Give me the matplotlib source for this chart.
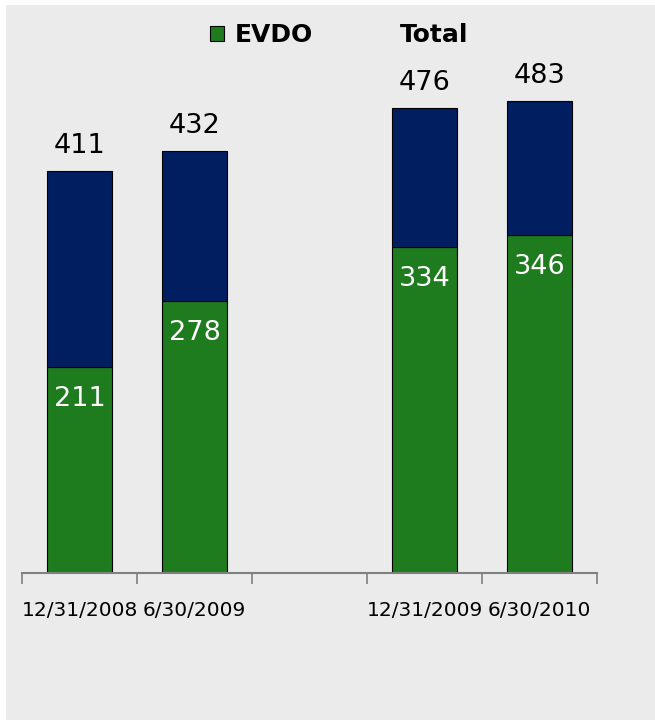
import matplotlib.pyplot as plt
import matplotlib.patches as mpatches
import numpy as np

# subscriber counts by period (empty slot between the two years)
periods = ["12/31/2008", "6/30/2009", "", "12/31/2009", "6/30/2010"]
evdo = [211, 278, np.nan, 334, 346]
total = [411, 432, np.nan, 476, 483]

green = "#1e7b1e"
navy = "#001e60"
bg = "#ebebeb"

fig = plt.figure(figsize=(6.55, 7.22), dpi=100, facecolor="white")
fig.patches.append(mpatches.Rectangle((6 / 655, 2 / 722), 1, 715 / 722,
                                      transform=fig.transFigure,
                                      facecolor=bg, edgecolor="none", zorder=-10))

ax = fig.add_axes([22 / 655, 149 / 722, 575 / 655, 513 / 722])
ax.set_facecolor("none")

x = np.arange(len(periods))
for i in x:
    if np.isnan(total[i]):
        continue
    ax.bar(i, evdo[i], width=0.57, color=green, edgecolor="black", linewidth=0.8)
    ax.bar(i, total[i] - evdo[i], bottom=evdo[i], width=0.57, color=navy,
           edgecolor="black", linewidth=0.8)
    ax.annotate(str(total[i]), (i, total[i]), xytext=(0, 25),
                textcoords="offset pixels", ha="center", va="center",
                fontsize=19.5, color="black")
    ax.annotate(str(evdo[i]), (i, evdo[i]), xytext=(0, -32),
                textcoords="offset pixels", ha="center", va="center",
                fontsize=19.5, color="white")

ax.set_xlim(-0.5, len(periods) - 0.5)
ax.set_ylim(0, 525)

# ticks at the category boundaries, labels at the centres
ax.set_xticks(np.arange(len(periods) + 1) - 0.5)
ax.set_xticklabels([])
ax.tick_params(axis="x", which="major", length=8, color="#808080", width=1.2)
ax.set_xticks(x, minor=True)
ax.set_xticklabels(periods, minor=True, fontsize=14.5)
ax.tick_params(axis="x", which="minor", length=0, pad=20)
ax.set_yticks([])

for side in ["top", "right", "left"]:
    ax.spines[side].set_visible(False)
ax.spines["bottom"].set_color("#808080")
ax.spines["bottom"].set_linewidth(1.5)

handles = [mpatches.Patch(facecolor=green, edgecolor="black", linewidth=0.8),
           mpatches.Patch(facecolor="none", edgecolor="none")]
ax.legend(handles, ["EVDO", "Total"], ncol=2, frameon=False,
          loc="center", bbox_to_anchor=(317 / 575, 538 / 513),
          bbox_transform=ax.transAxes, handlelength=0.55, handleheight=0.55,
          handletextpad=0.45, columnspacing=2.45,
          prop={"weight": "bold", "size": 18})

fig.savefig("out.png", dpi=100, facecolor=fig.get_facecolor())
